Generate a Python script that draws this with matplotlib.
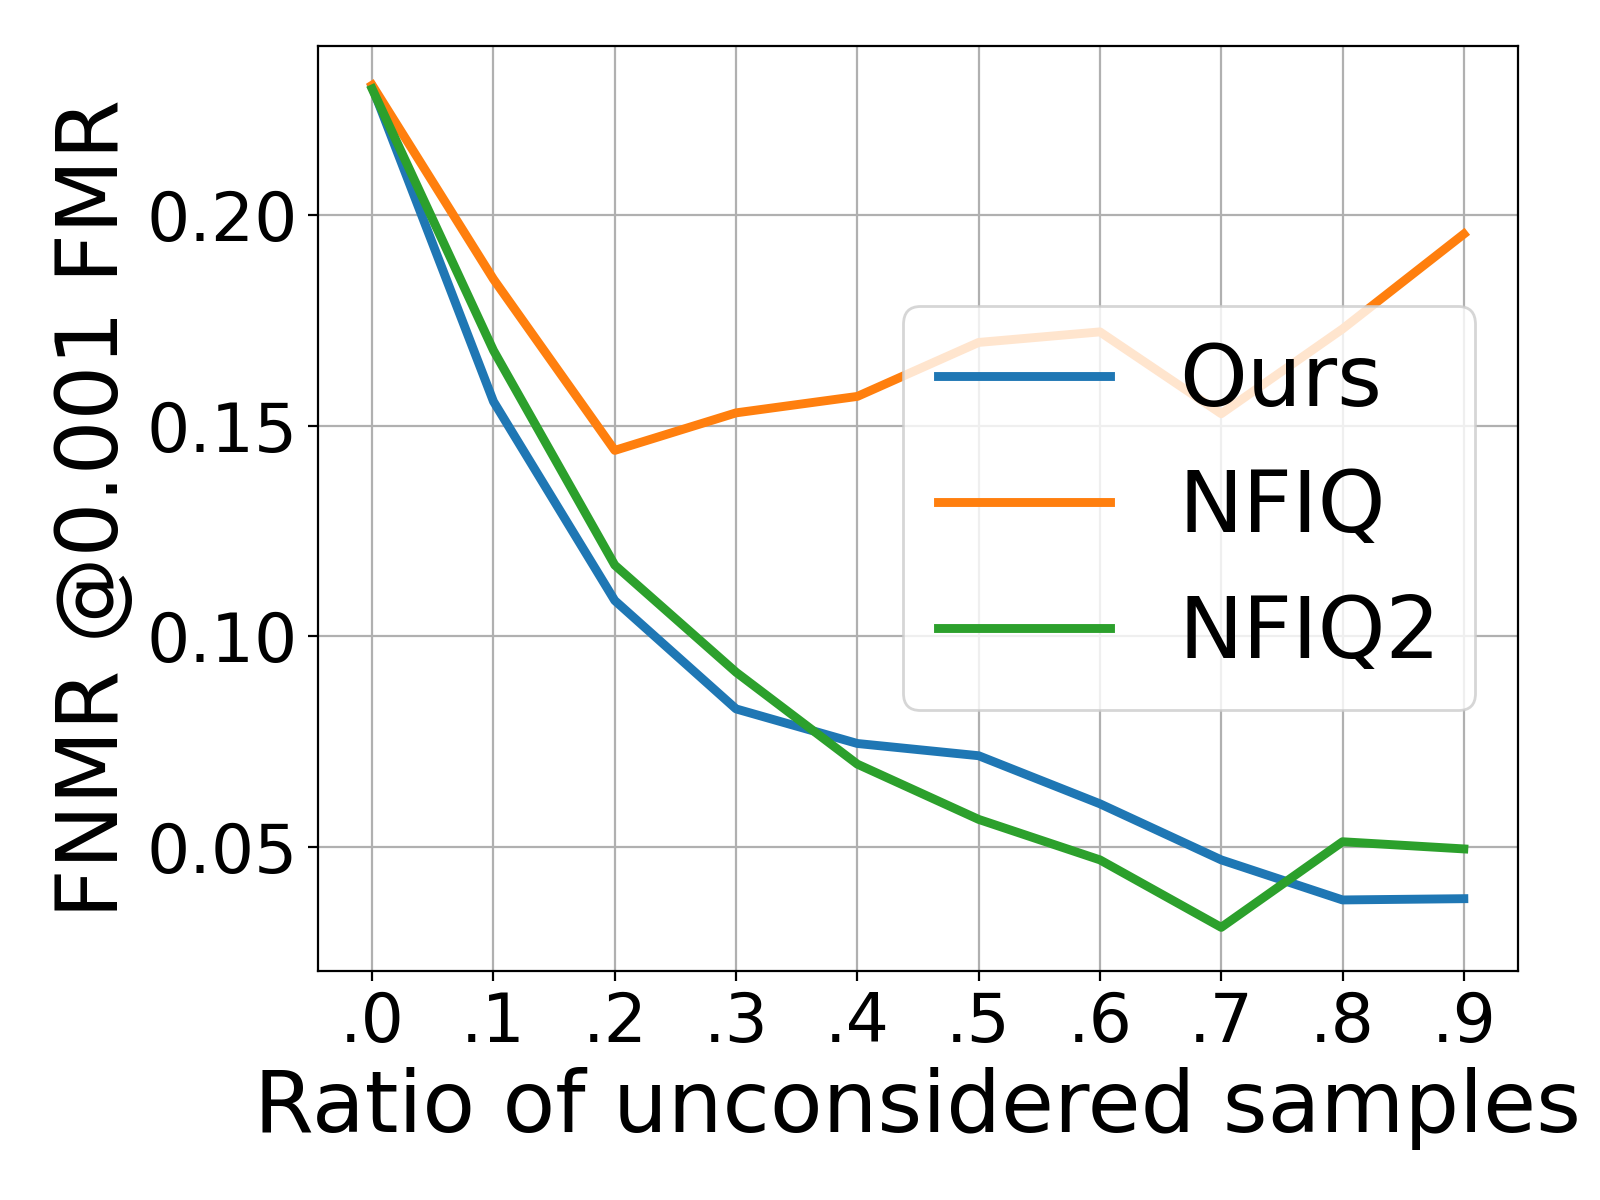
import numpy as np
import matplotlib
matplotlib.use("Agg")
import matplotlib.pyplot as plt

# ratio of unconsidered samples
ratios = [0.0, 0.1, 0.2, 0.3, 0.4, 0.5, 0.6, 0.7, 0.8, 0.9]
tick_labels = [".0", ".1", ".2", ".3", ".4", ".5", ".6", ".7", ".8", ".9"]

# FNMR @0.001 FMR
ours = [0.2303, 0.1557, 0.1085, 0.0828, 0.0746, 0.0717, 0.0603, 0.0470, 0.0375, 0.0378]
nfiq = [0.2307, 0.1847, 0.1441, 0.1530, 0.1569, 0.1697, 0.1722, 0.1528, 0.1729, 0.1954]
nfiq2 = [0.2298, 0.1678, 0.1169, 0.0915, 0.0697, 0.0566, 0.0470, 0.0310, 0.0513, 0.0496]

fig, ax = plt.subplots(figsize=(8, 6), dpi=200)
fig.subplots_adjust(left=0.1985, right=0.949, top=0.9617, bottom=0.191)

ax.plot(ratios, ours, color="tab:blue", linewidth=3.2, label="Ours")
ax.plot(ratios, nfiq, color="tab:orange", linewidth=3.2, label="NFIQ")
ax.plot(ratios, nfiq2, color="tab:green", linewidth=3.2, label="NFIQ2")

ax.set_xticks(ratios)
ax.set_xticklabels(tick_labels)
ax.set_yticks([0.05, 0.10, 0.15, 0.20])
ax.set_ylim(0.0207, 0.240)
ax.tick_params(labelsize=24.5)
ax.grid(True)

ax.set_xlabel("Ratio of unconsidered samples", fontsize=31)
ax.set_ylabel("FNMR @0.001 FMR", fontsize=31)
ax.legend(fontsize=31, loc="center right")

fig.savefig("out.png", dpi=200)
